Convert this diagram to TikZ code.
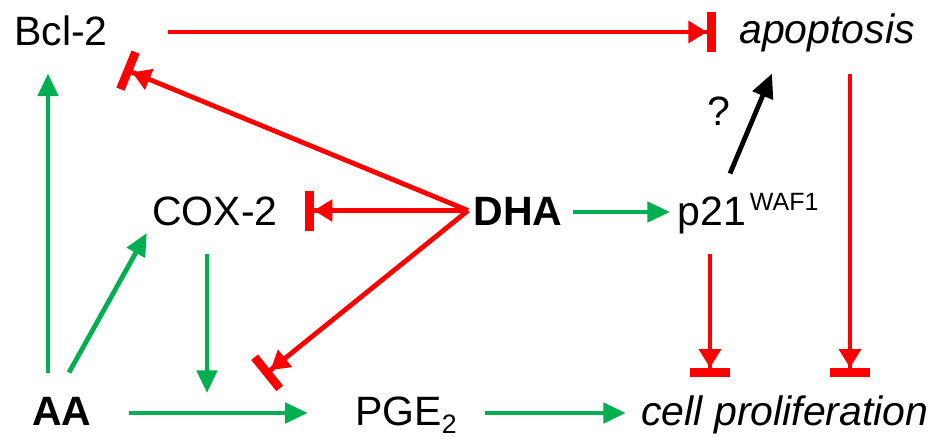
\documentclass[tikz,border=0pt]{standalone}
\usepackage{fontspec}
\setmainfont{Liberation Sans}
\usetikzlibrary{arrows.meta,calc}

\definecolor{actgreen}{RGB}{0,176,80}
\tikzset{every picture/.style={line width=0.75pt}}
\tikzset{
  lbl/.style={inner sep=0pt, text height=21.75pt, text depth=0pt, font=\fontsize{30.75pt}{36pt}\selectfont},
  act/.style={draw=actgreen, line width=3.6pt, -{Triangle[length=17pt,width=15pt]}},
  inh/.style={draw=red, line width=3.6pt, -{Triangle[length=14pt,width=16pt,sep=0pt]Bar[width=30pt,line width=6.5pt]}},
  unk/.style={draw=black, line width=3.6pt, -{Triangle[length=18pt,width=16pt]}},
}

\begin{document}
\begin{tikzpicture}[x=0.75pt,y=0.75pt,yscale=-1]

\useasboundingbox (0,0) rectangle (938,436);

\draw (61,30.5) node [lbl] (bcl) {Bcl-2};
\draw (827,28.5) node [lbl] (apo) {\itshape apoptosis};
\draw (215,210.5) node [lbl] (cox) {COX-2};
\draw (518,210.5) node [lbl] (dha) {\bfseries DHA};
\draw (748,210.5) node [lbl] (p21) {p21\hspace{3pt}\raisebox{11.25pt}{\fontsize{18.75pt}{20pt}\selectfont WAF1}};
\draw (62,410.5) node [lbl] (aa) {\bfseries AA};
\draw (406,416.5) node [lbl,text depth=9pt] (pge) {PGE\raisebox{-6pt}{\fontsize{20pt}{20pt}\selectfont 2}};
\draw (785,410.5) node [lbl] (cell) {\itshape cell proliferation};
\draw (719,110.5) node [lbl] (q) {?};

\draw  [inh]  ($(bcl.east)+(60,1.5)$) -- ($(apo.west)+(-23,3.5)$) ;
\draw  [inh]  ($(apo.south)+(23,30)$) -- ($(cell.north)+(65,-19)$) ;
\draw  [inh]  ($(p21.south)+(-38,28)$) -- ($(cell.north)+(-75,-19)$) ;
\draw  [unk]  ($(p21.north)+(-18,-22)$) -- ($(apo.south)+(-55,30)$) ;

\draw  [inh]  ($(dha.west)+(-5,0)$) -- ($(bcl.south)+(63,23.5)$) ;
\draw  [inh]  ($(dha.west)+(-5,0)$) -- ($(cox.east)+(27,0)$) ;
\draw  [inh]  ($(dha.west)+(-5,0)$) -- ($(pge.west)+(-91,-41)$) ;
\draw  [act]  ($(dha.east)+(10,1.5)$) -- ($(p21.west)+(-7,1.5)$) ;

\draw  [act]  ($(aa.north)+(-14,-23)$) -- ($(bcl.south)+(-13,28)$) ;
\draw  [act]  ($(aa.north)+(7,-23)$) -- ($(cox.west)+(-5,22.5)$) ;
\draw  [act]  ($(cox.south)+(-8,28)$) -- ($(cox.south |- pge.west)+(-8,-23.5)$) ;
\draw  [act]  ($(aa.east)+(37,2.5)$) -- ($(pge.west)+(-47,-3.5)$) ;
\draw  [act]  ($(pge.east)+(28,-3.5)$) -- ($(cell.west)+(-15,2.5)$) ;

\end{tikzpicture}
\end{document}
